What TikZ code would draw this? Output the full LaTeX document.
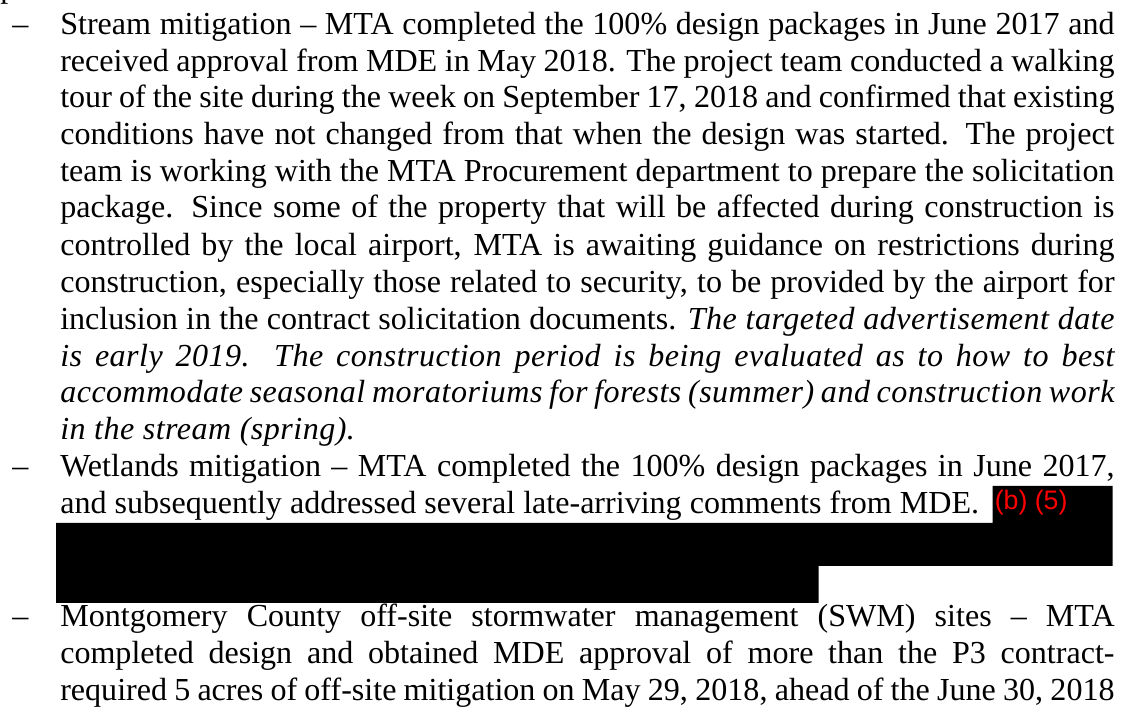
\documentclass[tikz,border=0pt]{standalone}
\usepackage{fontspec}
\setmainfont{Liberation Serif}[ItalicFeatures={LetterSpace=1.5}]
\newfontfamily\tagfont{Liberation Sans}
\definecolor{tagred}{HTML}{FF0000}

% one justified line of the report
\newcommand{\fullline}[1]{\makebox[26.35cm][s]{#1}}

\begin{document}
\begin{tikzpicture}[
  x=0.025cm, y=-0.025cm,
  txt/.style={anchor=base west, inner sep=0pt, font=\fontsize{22.8}{26}\selectfont},
  bullet/.style={txt},
  redtag/.style={anchor=base west, inner sep=0pt, text=tagred,
                 font=\tagfont\fontsize{19}{22}\selectfont},
]

\clip (0,0) rectangle (1126,707);
\fill[white] (0,0) rectangle (1126,707);

% tail of the line above
\node[txt] (ptail) at (0,-2) {p};

% stream mitigation
\node[bullet] (d1) at (12,34.5) {\textendash};
\node[txt] (l1) at (60,34.5) {\fullline{Stream mitigation \textendash{} MTA completed the 100\% design packages in June 2017 and}};
\node[txt] (l2) at (60,71.5) {\fullline{received approval from MDE in May 2018.  The project team conducted a walking}};
\node[txt] (l3) at (60,108) {\fullline{tour of the site during the week on September 17, 2018 and confirmed that existing}};
\node[txt] (l4) at (60,145) {\fullline{conditions have not changed from that when the design was started.  The project}};
\node[txt] (l5) at (60,181.5) {\fullline{team is working with the MTA Procurement department to prepare the solicitation}};
\node[txt] (l6) at (60,218) {\fullline{package.  Since some of the property that will be affected during construction is}};
\node[txt] (l7) at (60,255.5) {\fullline{controlled by the local airport, MTA is awaiting guidance on restrictions during}};
\node[txt] (l8) at (60,292.5) {\fullline{construction, especially those related to security, to be provided by the airport for}};
\node[txt] (l9) at (60,329.5) {\fullline{inclusion in the contract solicitation documents. \itshape The targeted advertisement date}};
\node[txt] (l10) at (60,366.5) {\fullline{\itshape is early 2019.  The construction period is being evaluated as to how to best}};
\node[txt] (l11) at (60,403) {\fullline{\itshape accommodate seasonal moratoriums for forests (summer) and construction work}};
\node[txt] (l12) at (60,440) {\itshape in the stream (spring).};

% wetlands mitigation
\node[bullet] (d2) at (12,477) {\textendash};
\node[txt] (l13) at (60,477) {\fullline{Wetlands mitigation \textendash{} MTA completed the 100\% design packages in June 2017,}};
\node[txt] (l14) at (60,513.5) {and subsequently addressed several late-arriving comments from MDE.};

% redacted block
\fill[black] (992.5,486) -- (1112.5,486) -- (1112.5,566) -- (818.5,566)
  -- (818.5,603) -- (56,603) -- (56,523) -- (992.5,523) -- cycle;
\node[redtag] (tag) at (994.5,510) {(b) (5)};

% montgomery county swm sites
\node[bullet] (d3) at (12,626.5) {\textendash};
\node[txt] (l15) at (60,626.5) {\fullline{Montgomery County off-site stormwater management (SWM) sites \textendash{} MTA}};
\node[txt] (l16) at (60,663.5) {\fullline{completed design and obtained MDE approval of more than the P3 contract-}};
\node[txt] (l17) at (60,700) {\fullline{required 5 acres of off-site mitigation on May 29, 2018, ahead of the June 30, 2018}};

\end{tikzpicture}
\end{document}
